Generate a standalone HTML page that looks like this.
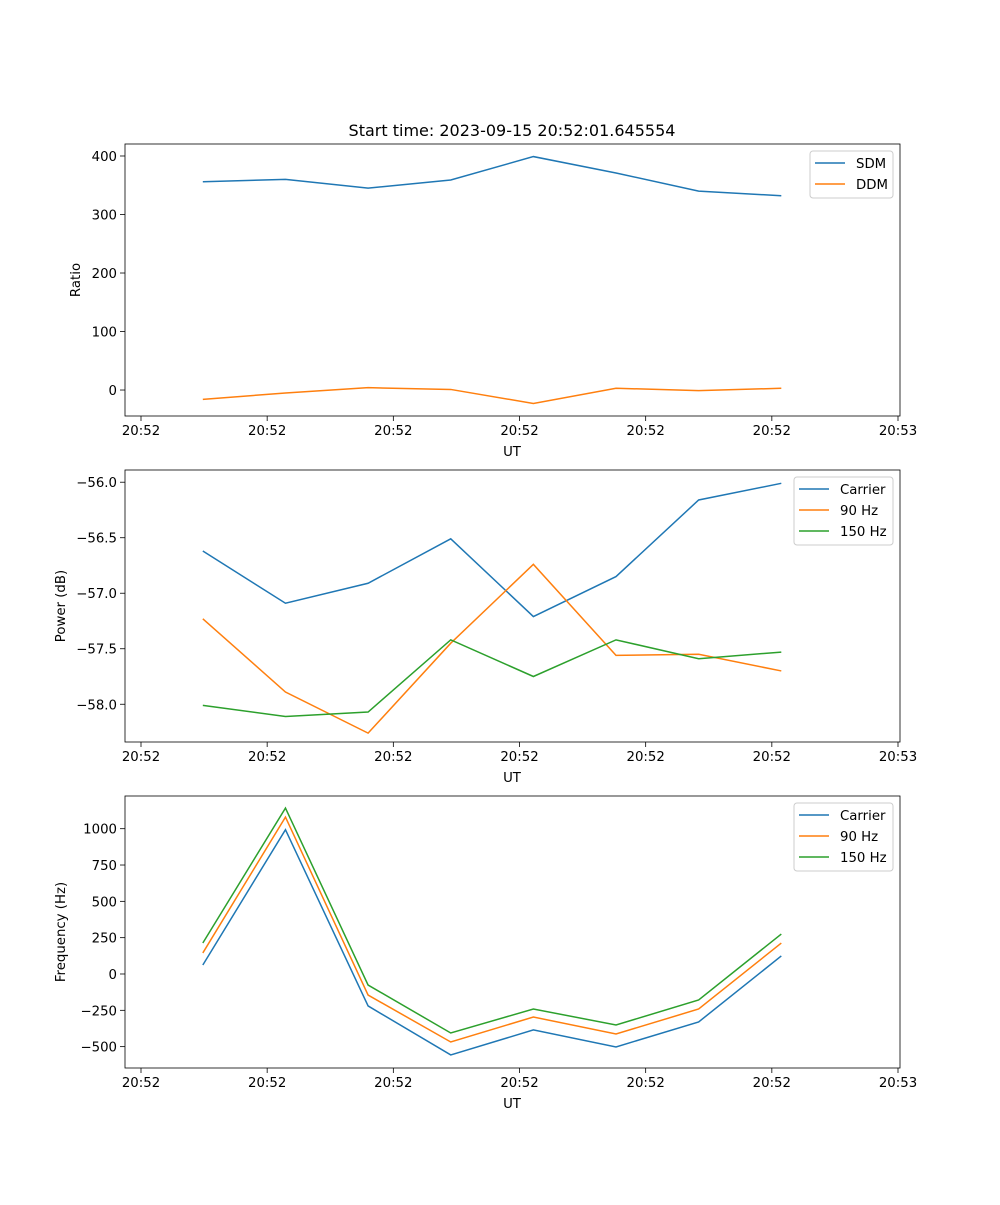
<!DOCTYPE html>
<html><head><meta charset="utf-8"><style>
body{margin:0;background:#fff}
svg text{font-family:"DejaVu Sans","Liberation Sans",sans-serif;font-size:13.3px;fill:#000}
</style></head><body>
<svg id="fig" width="1000" height="1200" xmlns="http://www.w3.org/2000/svg">
<rect width="1000" height="1200" fill="#fff"/>
<text x="512" y="136" text-anchor="middle" style="font-size:16px">Start time: 2023-09-15 20:52:01.645554</text>
</svg>
<script>
const times=[4.9,11.45,18.0,24.55,31.1,37.65,44.2,50.75];
const xTicks=[0,10,20,30,40,50,60];
const xTickLabels=["20:52","20:52","20:52","20:52","20:52","20:52","20:53"];
const sdm=[356,360,345,359,399,371,340,332];
const ddm=[-16,-5,4,1,-23,3,-1,3];
const powCarrier=[-56.62,-57.09,-56.91,-56.51,-57.21,-56.85,-56.16,-56.01];
const pow90=[-57.23,-57.89,-58.26,-57.45,-56.74,-57.56,-57.55,-57.70];
const pow150=[-58.01,-58.11,-58.07,-57.42,-57.75,-57.42,-57.59,-57.53];
const freqCarrier=[62,993,-220,-557,-385,-502,-330,124];
const freq90=[145,1080,-145,-468,-296,-413,-241,213];
const freq150=[213,1142,-76,-406,-241,-351,-179,275];
const ratioTicks=[0,100,200,300,400];
const powTicks=[-58.0,-57.5,-57.0,-56.5,-56.0];
const freqTicks=[-500,-250,0,250,500,750,1000];
const C=["#1f77b4","#ff7f0e","#2ca02c"];
const svg=document.getElementById('fig');
const NS="http://www.w3.org/2000/svg";
function mk(t,a,p){const e=document.createElementNS(NS,t);for(const k in a)e.setAttribute(k,a[k]);(p||svg).appendChild(e);return e;}
const L=125,R=900;
const xs=v=>141+(v-0)*(898-141)/60;
function panel(name,top,ymin,ymax,ticks,fmt,ylabel,series,labels,legW){
  const bot=top+272;
  const g=mk('g',{});
  
  
  const ys=v=>bot-(v-ymin)/(ymax-ymin)*272;
  xTicks.forEach((t,i)=>{const x=xs(t);
    mk('line',{x1:x,x2:x,y1:bot,y2:bot+5,stroke:'#000','stroke-width':0.8},g);
    const tx=mk('text',{x:x,y:bot+19,'text-anchor':'middle'},g);tx.textContent=xTickLabels[i];
    
    });
  ticks.forEach(v=>{const y=ys(v);
    mk('line',{x1:L-5,x2:L,y1:y,y2:y,stroke:'#000','stroke-width':0.8},g);
    const tx=mk('text',{x:L-8,y:y+5,'text-anchor':'end'},g);tx.textContent=fmt(v);
    
    });
  series.forEach((s,k)=>{
    const p=mk('polyline',{points:s.map((v,i)=>xs(times[i])+','+ys(v)).join(' '),fill:'none',stroke:C[k],'stroke-width':1.5},g);
    
    });
  mk('rect',{x:L,y:top,width:R-L,height:272,fill:'none',stroke:'#000','stroke-width':0.8},g);
  const xl=mk('text',{x:512,y:bot+40,'text-anchor':'middle'},g);xl.textContent='UT';
  
  
  const yl=mk('text',{x:0,y:0,'text-anchor':'middle',transform:`translate(${name==='ratio'?80:65},${top+136}) rotate(-90)`},g);yl.textContent=ylabel;
  
  
  const lx=893-legW,ly=top+7,lh=labels.length*21+5;
  const lg=mk('g',{},g);
  
  
  mk('rect',{x:lx,y:ly,width:legW,height:lh,rx:3,fill:'#fff','fill-opacity':0.8,stroke:'#ccc'},lg);
  labels.forEach((lb,k)=>{const y=ly+12+k*21;
    mk('line',{x1:lx+5,x2:lx+35,y1:y,y2:y,stroke:C[k],'stroke-width':1.5},lg);
    const t=mk('text',{x:lx+46,y:y+5},lg);t.textContent=lb;
    
    });
}
panel('ratio',144,-44.4,420.5,ratioTicks,v=>String(v),'Ratio',[sdm,ddm],['SDM','DDM'],83);
panel('power',470,-58.34,-55.89,powTicks,v=>v.toFixed(1).replace('-','\u2212'),'Power (dB)',[powCarrier,pow90,pow150],['Carrier','90 Hz','150 Hz'],99);
panel('frequency',796,-647,1225,freqTicks,v=>String(v).replace('-','\u2212'),'Frequency (Hz)',[freqCarrier,freq90,freq150],['Carrier','90 Hz','150 Hz'],99);
</script>
</body></html>
